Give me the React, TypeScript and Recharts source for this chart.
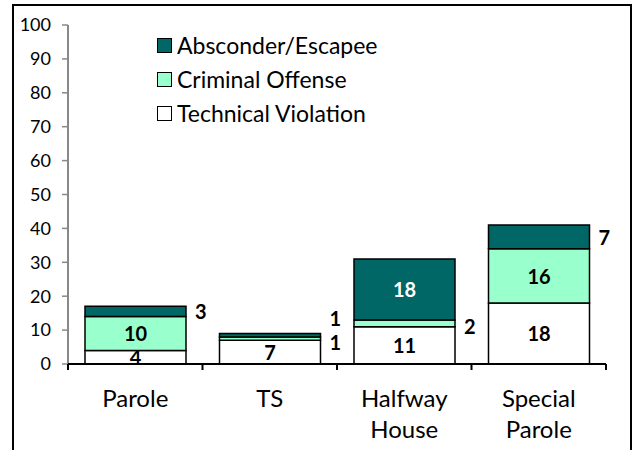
import { BarChart, Bar, XAxis, YAxis, LabelList } from "recharts";

const categories = ["Parole", "TS", "Halfway House", "Special Parole"];
const technicalViolation = [4, 7, 11, 18];
const criminalOffense = [10, 1, 2, 16];
const absconderEscapee = [3, 1, 18, 7];
const yTicks = [0, 10, 20, 30, 40, 50, 60, 70, 80, 90, 100];

const FONT = "Lato, 'Open Sans', sans-serif";
const PLOT_LEFT = 54;
const PLOT_RIGHT = 592;
const BAND = (PLOT_RIGHT - PLOT_LEFT) / categories.length;

const chartData = categories.map((name, i) => ({
    name,
    technical: technicalViolation[i],
    criminal: criminalOffense[i],
    absconder: absconderEscapee[i],
}));

const series = [
    { key: "technical", name: "Technical Violation", color: "#ffffff", text: "#000" },
    { key: "criminal", name: "Criminal Offense", color: "#99ffcc", text: "#000" },
    { key: "absconder", name: "Absconder/Escapee", color: "#006666", text: "#fff" },
];

// which labels sit beside the bar instead of inside, and a small nudge
const outside: Record<string, number> = {
    "absconder-0": 0,
    "absconder-1": -17,
    "criminal-1": 3,
    "criminal-2": 3,
    "absconder-3": 0,
};

function makeLabel(key: string, textColor: string) {
    return (props: any) => {
        const { x, y, width, height, value, index } = props;
        const id = `${key}-${index}`;
        const cy = Number(y) + Number(height) / 2;
        if (id in outside) {
            return (
                <text
                    x={Number(x) + Number(width) + 9}
                    y={cy + outside[id]}
                    dominantBaseline="central"
                    textAnchor="start"
                    fontFamily={FONT}
                    fontWeight="bold"
                    fontSize={20}
                    fill="#000"
                >
                    {value}
                </text>
            );
        }
        return (
            <text
                x={Number(x) + Number(width) / 2}
                y={cy}
                dominantBaseline="central"
                textAnchor="middle"
                fontFamily={FONT}
                fontWeight="bold"
                fontSize={20}
                fill={textColor}
            >
                {value}
            </text>
        );
    };
}

function CategoryTick(props: any) {
    const { x, y, payload, index } = props;
    const words = String(payload.value).split(" ");
    return (
        <g>
            <line x1={x - BAND / 2} x2={x - BAND / 2} y1={y} y2={y + 6} stroke="#000" strokeWidth={2} />
            {index === categories.length - 1 && (
                <line x1={x + BAND / 2} x2={x + BAND / 2} y1={y} y2={y + 6} stroke="#000" strokeWidth={2} />
            )}
            <text textAnchor="middle" fontFamily={FONT} fontSize={24} fill="#000">
                {words.map((w, i) => (
                    <tspan key={i} x={x} y={y + 43 + i * 31}>
                        {w}
                    </tspan>
                ))}
            </text>
        </g>
    );
}

function LegendBox() {
    const items = [...series].reverse();
    return (
        <div
            style={{
                position: "absolute",
                left: 143,
                top: 22,
                fontFamily: FONT,
                fontSize: 23,
                color: "#000",
            }}
        >
            {items.map((s) => (
                <div key={s.key} style={{ display: "flex", alignItems: "center", height: 34 }}>
                    <span
                        style={{
                            display: "inline-block",
                            width: 13,
                            height: 13,
                            background: s.color,
                            border: "1.5px solid #000",
                            marginRight: 5,
                        }}
                    />
                    <span>{s.name}</span>
                </div>
            ))}
        </div>
    );
}

export default function App() {
    return (
        <div
            style={{
                position: "absolute",
                left: 12,
                top: 4,
                width: 620,
                height: 460,
                border: "2px solid #000",
                boxSizing: "border-box",
                background: "#fff",
            }}
        >
            <BarChart
                width={616}
                height={456}
                data={chartData}
                margin={{ top: 19, right: 24, left: 0, bottom: 0 }}
                barSize={101}
            >
                <YAxis
                    width={54}
                    domain={[0, 100]}
                    ticks={yTicks}
                    interval={0}
                    axisLine={{ stroke: "#888", strokeWidth: 2 }}
                    tickLine={{ stroke: "#888", strokeWidth: 1.5 }}
                    tickSize={6}
                    tickMargin={11}
                    tick={{ fontFamily: FONT, fontSize: 18, fill: "#000" }}
                />
                <XAxis
                    dataKey="name"
                    height={98}
                    interval={0}
                    axisLine={{ stroke: "#000", strokeWidth: 2 }}
                    tickLine={false}
                    tickSize={0}
                    tickMargin={0}
                    tick={<CategoryTick />}
                />
                {series.map((s) => (
                    <Bar
                        key={s.key}
                        dataKey={s.key}
                        name={s.name}
                        stackId="a"
                        fill={s.color}
                        stroke="#000"
                        strokeWidth={1.5}
                        isAnimationActive={false}
                    >
                        <LabelList dataKey={s.key} content={makeLabel(s.key, s.text)} />
                    </Bar>
                ))}
            </BarChart>
            <LegendBox />
        </div>
    );
}
